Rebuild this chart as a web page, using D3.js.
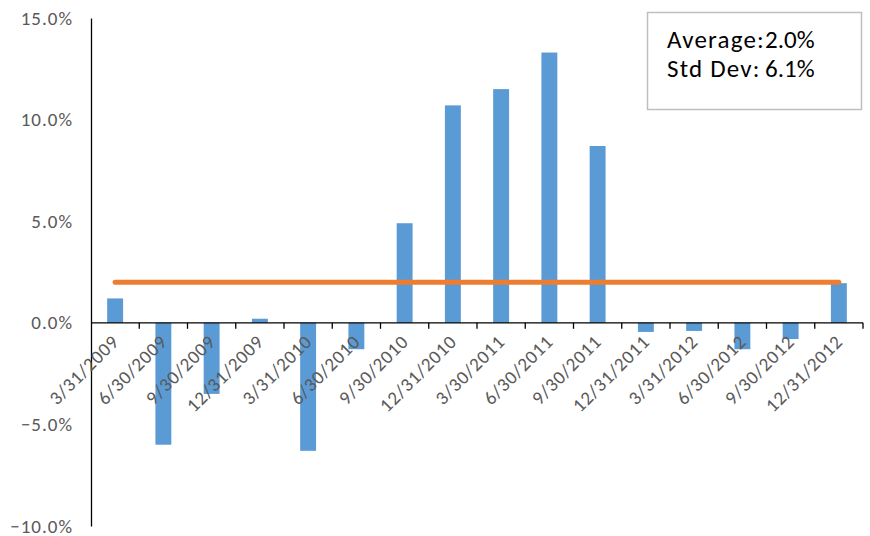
<!DOCTYPE html>
<html>
<head>
<meta charset="utf-8">
<script src="https://cdn.jsdelivr.net/npm/d3@7"></script>
<style>
  html, body { margin: 0; padding: 0; background: #fff; }
  svg { display: block; }
  text { font-family: Carlito, Lato, "Liberation Sans", sans-serif; }
</style>
</head>
<body>
<svg id="chart" width="870" height="536"></svg>
<script>
// Quarterly returns, in percent
const quarters = [
  "3/31/2009", "6/30/2009", "9/30/2009", "12/31/2009",
  "3/31/2010", "6/30/2010", "9/30/2010", "12/31/2010",
  "3/30/2011", "6/30/2011", "9/30/2011", "12/31/2011",
  "3/31/2012", "6/30/2012", "9/30/2012", "12/31/2012"
];
const returns = [1.2, -6.0, -3.5, 0.2, -6.3, -1.3, 4.9, 10.7, 11.5, 13.3, 8.7, -0.45, -0.4, -1.3, -0.8, 1.95];
const averageSeries = [2.0, 2.0, 2.0, 2.0, 2.0, 2.0, 2.0, 2.0, 2.0, 2.0, 2.0, 2.0, 2.0, 2.0, 2.0, 2.0];
const yTicks = [15, 10, 5, 0, -5, -10];
const statLabels = ["Average:", "Std Dev:"];
const statValues = ["2.0%", "6.1%"];

const svg = d3.select("#chart");
const plotLeft = 91, plotRight = 863, plotTop = 18, plotBottom = 526;

const x = d3.scaleBand().domain(quarters).range([plotLeft, plotRight]);
const y = d3.scaleLinear().domain([-10, 15]).range([plotBottom, plotTop]);

const barW = x.bandwidth() * 0.33;

// Bars
svg.append("g").selectAll("rect")
  .data(quarters.map((q, i) => ({ q, v: returns[i] })))
  .join("rect")
  .attr("x", d => x(d.q) + x.bandwidth() / 2 - barW / 2)
  .attr("y", d => y(Math.max(0, d.v)))
  .attr("width", barW)
  .attr("height", d => Math.abs(y(d.v) - y(0)))
  .attr("fill", "#5B9BD5");

// Y axis: line and labels only
const yAxis = d3.axisLeft(y).tickValues(yTicks).tickSize(0).tickPadding(18)
  .tickFormat(d => d3.format(".1f")(d) + "%");
svg.append("g")
  .attr("transform", `translate(${plotLeft},0)`)
  .call(yAxis)
  .call(g => g.select(".domain").attr("stroke", "#000").attr("stroke-width", 1.3))
  .call(g => g.selectAll("text")
    .attr("fill", "#595959")
    .style("font-size", "19px")
    .style("letter-spacing", "1px")
    .style("font-family", "Carlito, Lato, sans-serif"));

// X axis along zero, ticks at category boundaries
const xg = svg.append("g").attr("transform", `translate(0,${y(0)})`);
xg.append("line")
  .attr("x1", plotLeft).attr("x2", plotRight)
  .attr("stroke", "#000").attr("stroke-width", 1.3);
const boundaries = quarters.map(q => x(q) + x.bandwidth());
xg.selectAll("line.tick")
  .data(boundaries)
  .join("line")
  .attr("class", "tick")
  .attr("x1", d => d).attr("x2", d => d)
  .attr("y1", 0).attr("y2", 6)
  .attr("stroke", "#000").attr("stroke-width", 1.3);

// Rotated category labels
svg.append("g").selectAll("text")
  .data(quarters)
  .join("text")
  .attr("transform", d => `translate(${x(d) + x.bandwidth() / 2 + 5},${y(0) + 20}) rotate(-45)`)
  .attr("text-anchor", "end")
  .attr("fill", "#595959")
  .style("font-size", "19px")
  .style("letter-spacing", "0.8px")
  .text(d => d);

// Average line
const line = d3.line()
  .x((d, i) => x(quarters[i]) + x.bandwidth() / 2)
  .y(d => y(d));
svg.append("path")
  .datum(averageSeries)
  .attr("d", line)
  .attr("fill", "none")
  .attr("stroke", "#ED7D31")
  .attr("stroke-width", 5)
  .attr("stroke-linecap", "round");

// Statistics box
const box = svg.append("g");
box.append("rect")
  .attr("x", 647.5).attr("y", 12.5)
  .attr("width", 214).attr("height", 97)
  .attr("fill", "#fff")
  .attr("stroke", "#BFBFBF").attr("stroke-width", 1.5);
statLabels.forEach((lab, i) => {
  box.append("text")
    .attr("x", 667).attr("y", 48 + i * 28.5)
    .attr("fill", "#000")
    .style("font-size", "25px")
    .style("letter-spacing", "1.2px")
    .text(lab);
  box.append("text")
    .attr("x", 765).attr("y", 48 + i * 28.5)
    .attr("fill", "#000")
    .style("font-size", "25px")
    .text(statValues[i]);
});
</script>
</body>
</html>
